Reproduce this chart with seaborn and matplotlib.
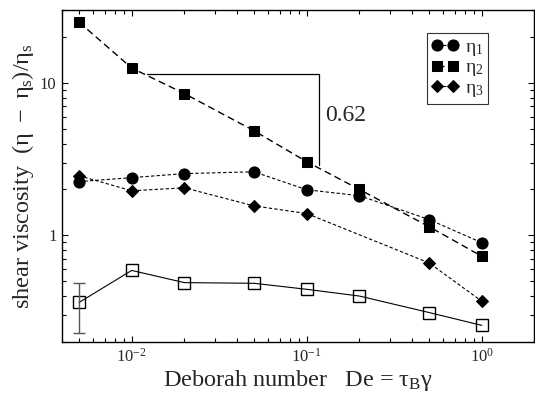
import numpy as np
import pandas as pd
import matplotlib
matplotlib.use("Agg")
import matplotlib.pyplot as plt
import matplotlib.ticker as mticker
import seaborn as sns

# values
de = [0.005, 0.01, 0.02, 0.05, 0.1, 0.2, 0.5, 1.0]
eta1 = [2.25, 2.39, 2.54, 2.61, 1.99, 1.82, 1.27, 0.895]
eta2 = [25.0, 12.5, 8.5, 4.85, 3.04, 2.0, 1.14, 0.73]
de3 = [0.005, 0.01, 0.02, 0.05, 0.1, 0.5, 1.0]
eta3 = [2.46, 1.96, 2.05, 1.56, 1.39, 0.66, 0.37]
open_sq = [0.363, 0.589, 0.49, 0.485, 0.443, 0.40, 0.312, 0.257]
err_x = [0.005]
err_y = [0.363]
err_lo = [0.23]
err_hi = [0.49]

# slope guide
tri_x = [0.0123, 0.117, 0.117]
tri_y = [11.5, 11.5, 2.9]
slope_txt = "0.62"

sns.set_style("ticks")
plt.rcParams["font.family"] = ["Liberation Serif", "DejaVu Serif"]
plt.rcParams["mathtext.fontset"] = "custom"
plt.rcParams["mathtext.rm"] = "Liberation Serif"
plt.rcParams["mathtext.it"] = "Liberation Serif"
plt.rcParams["mathtext.bf"] = "Liberation Serif:bold"

df1 = pd.DataFrame({"De": de, "v": eta1})
df2 = pd.DataFrame({"De": de, "v": eta2})
df3 = pd.DataFrame({"De": de3, "v": eta3})
df4 = pd.DataFrame({"De": de, "v": open_sq})

fig = plt.figure(figsize=(5.35, 3.96), dpi=100)
ax = fig.add_axes([0.1159, 0.1364, 0.8831, 0.8383])

sns.lineplot(data=df1, x="De", y="v", ax=ax, color="black", marker="o",
             markersize=8, linestyle=(0, (3, 2)), linewidth=0.8,
             markeredgecolor="black", label=r"$\eta_1$")
sns.lineplot(data=df2, x="De", y="v", ax=ax, color="black", marker="s",
             markersize=7.5, linestyle=(0, (5, 3)), linewidth=1.0,
             markeredgecolor="black", label=r"$\eta_2$")
sns.lineplot(data=df3, x="De", y="v", ax=ax, color="black", marker="D",
             markersize=6.5, linestyle=(0, (3, 2)), linewidth=0.8,
             markeredgecolor="black", label=r"$\eta_3$")
sns.lineplot(data=df4, x="De", y="v", ax=ax, color="black", marker="s",
             markersize=8, linewidth=0.8, markerfacecolor="none",
             markeredgecolor="black", markeredgewidth=1.0, label="_nolegend_")

ax.errorbar(err_x, err_y,
            yerr=[[err_y[0] - err_lo[0]], [err_hi[0] - err_y[0]]],
            fmt="none", ecolor="#555555", elinewidth=1.0, capsize=4,
            capthick=1.0)

ax.plot(tri_x, tri_y, color="black", linewidth=0.9)
ax.text(0.127, 6.1, slope_txt, fontsize=17, ha="left", va="center")

ax.set_xscale("log")
ax.set_yscale("log")
ax.set_xlim(0.004, 2.0)
ax.set_ylim(0.2, 30)

ax.yaxis.set_major_locator(mticker.FixedLocator([1, 10]))
ax.yaxis.set_major_formatter(mticker.FixedFormatter(["1", "10"]))
ax.yaxis.set_minor_locator(mticker.LogLocator(base=10, subs=np.arange(2, 10)))
ax.yaxis.set_minor_formatter(mticker.NullFormatter())
ax.xaxis.set_major_locator(mticker.LogLocator(base=10))
ax.xaxis.set_minor_locator(mticker.LogLocator(base=10, subs=np.arange(2, 10)))
ax.xaxis.set_minor_formatter(mticker.NullFormatter())

ax.tick_params(which="both", direction="in", top=True, right=True,
               labelsize=12, width=0.8, color="black")
ax.tick_params(which="major", length=4.5, pad=4)
ax.tick_params(which="minor", length=3)
for s in ax.spines.values():
    s.set_linewidth(1.0)
    s.set_color("black")

ax.set_xlabel(r"Deborah number   De = $\tau_B\gamma$", fontsize=17.5, labelpad=2)
ax.set_ylabel(r"shear viscosity  $(\eta\ -\ \eta_s)/\eta_s$", fontsize=17.5,
              labelpad=3)

leg = ax.legend(loc="upper left", bbox_to_anchor=(0.772, 0.93), numpoints=2,
                handlelength=1.4, handletextpad=0.3, fontsize=14,
                frameon=True, fancybox=False, edgecolor="black",
                borderpad=0.25, labelspacing=0.05, borderaxespad=0)
leg.get_frame().set_linewidth(0.8)

fig.savefig("out.png", dpi=100)
